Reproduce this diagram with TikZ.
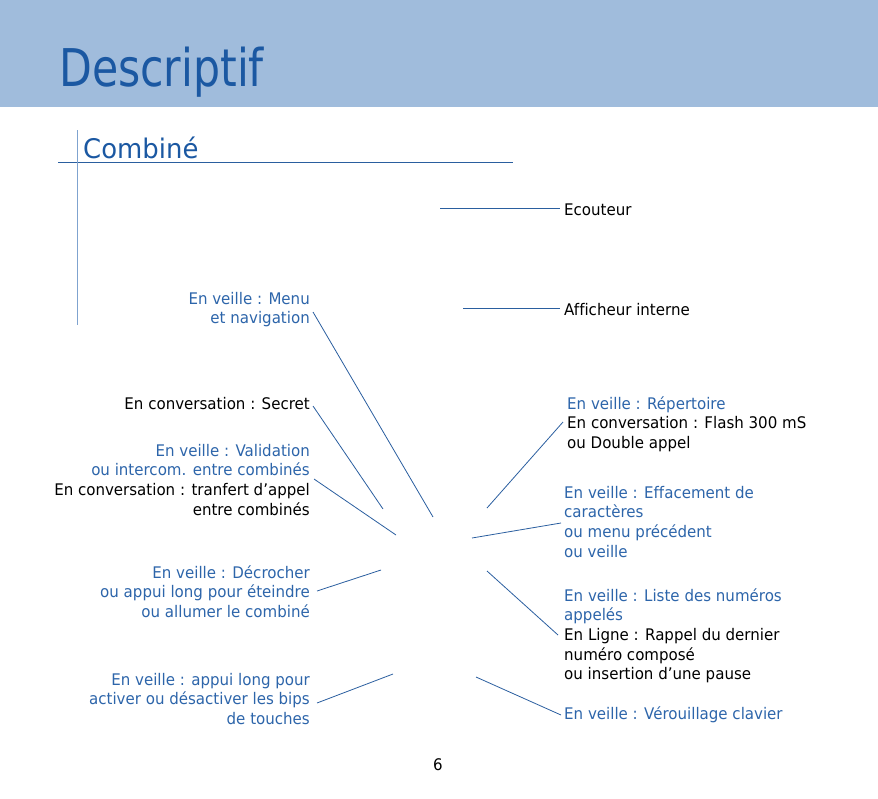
\documentclass[tikz,border=0pt]{standalone}
\usepackage{fontspec}
\setmainfont{DejaVu Sans}[FakeStretch=0.94, Ligatures=NoCommon]
\newfontfamily\titlef{DejaVu Sans}[FakeStretch=0.82]
\newfontfamily\subf{DejaVu Sans}[FakeStretch=0.96]
\definecolor{band}{HTML}{A0BCDC}
\definecolor{titleblue}{HTML}{1B58A2}
\definecolor{txtblue}{HTML}{2D65AA}
\definecolor{lineblue}{HTML}{2A5E9F}
\definecolor{paleblue}{HTML}{7FA3CF}
\newcommand{\bodyf}{\fontsize{16}{19.6}\selectfont}
\newcommand{\bl}[1]{\textcolor{txtblue}{#1}}
\tikzset{
  lblL/.style={inner sep=0pt, font=\bodyf, align=right, anchor=north east},
  lblR/.style={inner sep=0pt, font=\bodyf, align=left, anchor=north west},
  leader/.style={draw=lineblue, line width=0.8pt},
}
\begin{document}
\begin{tikzpicture}[x=1pt,y=-1pt]
\useasboundingbox (0,0) rectangle (878,798);
\fill[band] (0,0) rectangle (878,107);
\node[anchor=base west, inner sep=0pt, text=titleblue, font=\titlef\fontsize{52}{52}\selectfont] (title) at (59,86) {Descriptif};
\node[anchor=base west, inner sep=0pt, text=titleblue, font=\subf\fontsize{27}{27}\selectfont] (sub) at (83,158) {Combiné};
\coordinate (hl1) at (58,162.5); \coordinate (hl2) at (513,162.5);
\coordinate (vl1) at (77,130); \coordinate (vl2) at (77,325);
\draw[lineblue, line width=1pt] (hl1) -- (hl2);
\draw[paleblue, line width=1pt] (vl1) -- (vl2);

% left labels
\node[lblL, text=txtblue] (menu) at (310,290.3) {\strut En veille : Menu\\et navigation};
\node[lblL] (secret) at (310,395.3) {\strut En conversation : Secret};
\node[lblL] (valid) at (310,442.3) {\strut\bl{En veille : Validation}\\\bl{ou intercom. entre combinés}\\En conversation : tranfert d’appel\\entre combinés};
\node[lblL, text=txtblue] (decro) at (310,564.3) {\strut En veille : Décrocher\\ou appui long pour éteindre\\ou allumer le combiné};
\node[lblL, text=txtblue] (bips) at (310,671.3) {\strut En veille : appui long pour\\activer ou désactiver les bips\\de touches};

% right labels
\node[lblR] (ecout) at (564,201.3) {\strut Ecouteur};
\node[lblR] (affich) at (564,301.3) {\strut Afficheur interne};
\node[lblR] (repert) at (567,395.3) {\strut\bl{En veille : Répertoire}\\En conversation : Flash 300 mS\\ou Double appel};
\node[lblR, text=txtblue] (effac) at (564,484.3) {\strut En veille : Effacement de\\caractères\\ou menu précédent\\ou veille};
\node[lblR] (liste) at (564,587.3) {\strut\bl{En veille : Liste des numéros}\\\bl{appelés}\\En Ligne : Rappel du dernier\\numéro composé\\ou insertion d’une pause};
\node[lblR, text=txtblue] (verou) at (564,705.3) {\strut En veille : Vérouillage clavier};
\node[anchor=base, inner sep=0pt, font=\bodyf] (page) at (438,770) {6};

% leader line coordinates
\coordinate (a1) at (440,208); \coordinate (a2) at (560,208);
\coordinate (b1) at (463,308); \coordinate (b2) at (560,308);
\coordinate (c1) at (313,312); \coordinate (c2) at (433,517);
\coordinate (d1) at (313,406); \coordinate (d2) at (383,509);
\coordinate (e1) at (314,479); \coordinate (e2) at (396,535);
\coordinate (f1) at (317,591); \coordinate (f2) at (381,570);
\coordinate (g1) at (317,703); \coordinate (g2) at (393,674);
\coordinate (h1) at (563,422); \coordinate (h2) at (487,508);
\coordinate (i1) at (561,523); \coordinate (i2) at (472,538);
\coordinate (j1) at (558,635); \coordinate (j2) at (487,571);
\coordinate (k1) at (561,715); \coordinate (k2) at (476,677);
\foreach \p in {a,b,c,d,e,f,g,h,i,j,k}{\draw[leader] (\p1) -- (\p2);}
\end{tikzpicture}
\end{document}
